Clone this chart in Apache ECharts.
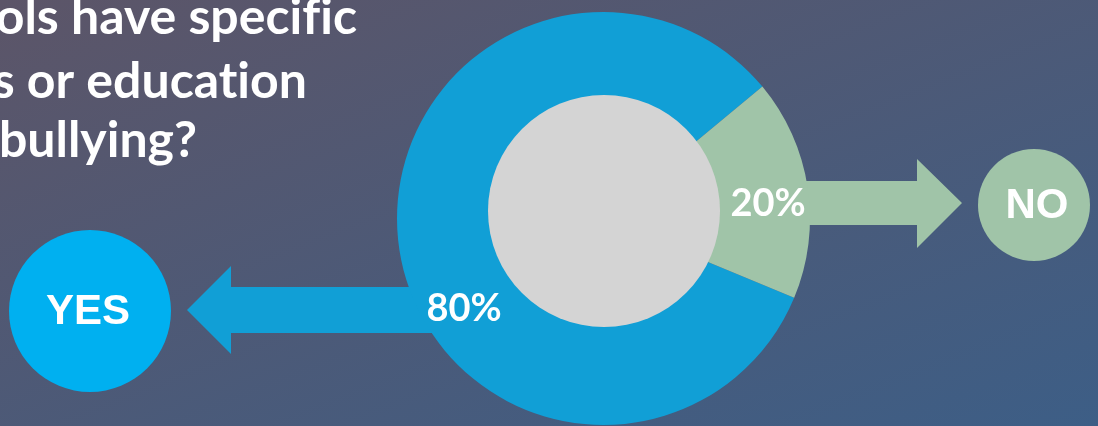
<!DOCTYPE html>
<html>
<head>
<meta charset="utf-8">
<script src="https://cdn.jsdelivr.net/npm/echarts@6/dist/echarts.min.js"></script>
<style>
  html, body { margin: 0; padding: 0; }
  #chart { width: 1098px; height: 426px; }
</style>
</head>
<body>
<div id="chart"></div>
<script>
// answers and their shares as drawn in the ring
var answers = ['YES', 'NO'];
var shares = [82.7, 17.3];
var pctLabels = ['80%', '20%'];
var sliceColors = ['#119fd6', '#a0c4a8'];

// visible part of the question (cut off at the left edge)
var titleLines = ['ols have specific', 's or education', 'bullying?'];

// Lato draws "ti"/"fi" as ligatures, the original does not
function noLig(s) { return s.replace(/([tf])i/g, '$1\u200Ci'); }

var chart = echarts.init(document.getElementById('chart'));

var titleFont = 'bold 50px Lato';
var option = {
  animation: false,
  graphic: [
    // slide background, stretched diagonal gradient
    {
      type: 'rect', z: 0,
      shape: { x: 0, y: 0, width: 1098, height: 426 },
      style: {
        fill: new echarts.graphic.LinearGradient(0, 0, 287, 740, [
          { offset: 0, color: '#5c5568' },
          { offset: 1, color: '#3d5e86' }
        ], true)
      }
    },
    // blue arrow towards YES (behind the ring)
    {
      type: 'polygon', z: 1,
      shape: { points: [[187, 310], [231, 266], [231, 287], [520, 287], [520, 333], [231, 333], [231, 354]] },
      style: { fill: '#119fd6' }
    },
    // green arrow towards NO
    {
      type: 'polygon', z: 1,
      shape: { points: [[962, 203], [917, 159], [917, 181], [700, 181], [700, 225], [917, 225], [917, 248]] },
      style: { fill: '#a0c4a8' }
    },
    { type: 'circle', z: 1, shape: { cx: 90, cy: 311, r: 81 }, style: { fill: '#00b0f0' } },
    { type: 'circle', z: 1, shape: { cx: 1034, cy: 205, r: 56 }, style: { fill: '#a0c4a8' } },
    {
      type: 'text', z: 5, x: 88, y: 312,
      style: { text: answers[0], fill: '#fff', font: 'bold 42px "Liberation Sans", Arial', textAlign: 'center', textVerticalAlign: 'middle' }
    },
    {
      type: 'text', z: 5, x: 1037, y: 206,
      style: { text: answers[1], fill: '#fff', font: 'bold 42px "Liberation Sans", Arial', textAlign: 'center', textVerticalAlign: 'middle' }
    },
    {
      type: 'text', z: 5, x: 357, y: 43,
      style: { text: noLig(titleLines[0]), fill: '#fff', font: titleFont, textAlign: 'right', textVerticalAlign: 'bottom' }
    },
    {
      type: 'text', z: 5, x: 307, y: 107,
      style: { text: noLig(titleLines[1]), fill: '#fff', font: titleFont, textAlign: 'right', textVerticalAlign: 'bottom' }
    },
    {
      type: 'text', z: 5, x: 197, y: 166,
      style: { text: noLig(titleLines[2]), fill: '#fff', font: titleFont, textAlign: 'right', textVerticalAlign: 'bottom' }
    }
  ],
  series: [
    {
      type: 'pie',
      z: 2,
      center: [603.5, 218.5],
      radius: [100, 206.5],
      startAngle: 39.7,
      clockwise: false,
      silent: true,
      label: {
        show: true,
        position: 'inside',
        color: '#fff',
        fontFamily: 'Lato',
        fontWeight: 'bold',
        fontSize: 38,
        formatter: function (p) { return pctLabels[p.dataIndex]; }
      },
      labelLine: { show: false },
      itemStyle: { borderWidth: 0 },
      data: [
        { name: answers[0], value: shares[0], itemStyle: { color: sliceColors[0] }, label: { offset: [15, 67] } },
        { name: answers[1], value: shares[1], itemStyle: { color: sliceColors[1] }, label: { offset: [10, 9] } }
      ]
    },
    {
      // light grey disc in the middle
      type: 'pie',
      z: 3,
      center: [604, 211],
      radius: [0, 116],
      silent: true,
      label: { show: false },
      labelLine: { show: false },
      data: [{ value: 1, itemStyle: { color: '#d4d4d4' } }]
    }
  ]
};

chart.setOption(option);
</script>
</body>
</html>
